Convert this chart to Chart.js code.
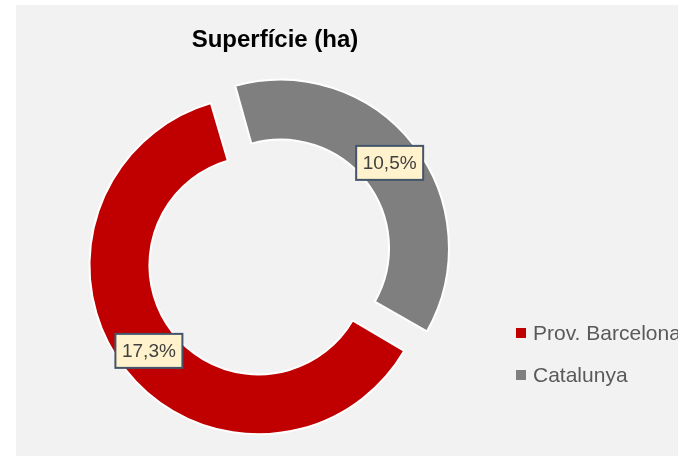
<!DOCTYPE html>
<html>
<head>
<meta charset="utf-8">
<script src="https://cdn.jsdelivr.net/npm/chart.js@4/dist/chart.umd.min.js"></script>
<style>
  html, body { margin: 0; padding: 0; background: #fff; overflow: hidden; }
  .bg { position: absolute; left: 16px; top: 5px; right: 0; bottom: 0; background: #f2f2f2; }
  .wrap { position: absolute; left: 0; top: 0; width: 678px; height: 456px; }
</style>
</head>
<body>
<div class="bg"></div>
<div class="wrap"><canvas id="chart" width="678" height="456"></canvas></div>
<script>
// data
const categories = ["Prov. Barcelona", "Catalunya"];
const values = [17.3, 10.5];
const colors = ["#c00000", "#7f7f7f"];
const explode = [28, 84];
const chartTitle = "Superfície (ha)";

const fmt = (v) => v.toFixed(1).replace(".", ",") + "%";

// where chart.js actually paints an (offset) arc's ring middle
function arcMiddle(arc) {
  const { x, y, startAngle, endAngle, innerRadius, outerRadius, circumference } = arc;
  const t = (arc.options.offset || 0) / 4;
  const fix = 1 - Math.sin(Math.min(Math.PI, circumference));
  const a = (startAngle + endAngle) / 2;
  const r = t + (innerRadius + outerRadius) / 2 + t * fix;
  return { x: x + Math.cos(a) * r, y: y + Math.sin(a) * r };
}

// title, legend and the boxed value labels
const decor = {
  id: "decor",
  afterDatasetsDraw(chart) {
    const ctx = chart.ctx;
    const meta = chart.getDatasetMeta(0);
    ctx.save();

    ctx.font = "19px Arial, 'Liberation Sans'";
    ctx.textAlign = "center";
    ctx.textBaseline = "middle";
    meta.data.forEach((arc, i) => {
      const p = arcMiddle(arc);
      const w = 67, h = 34;
      ctx.fillStyle = "#fff2cc";
      ctx.fillRect(p.x - w / 2, p.y - h / 2, w, h);
      ctx.lineWidth = 2;
      ctx.strokeStyle = "#44546a";
      ctx.strokeRect(p.x - w / 2, p.y - h / 2, w, h);
      ctx.fillStyle = "#404040";
      ctx.fillText(fmt(values[i]), p.x, p.y + 1);
    });

    ctx.font = "bold 24px Arial, 'Liberation Sans'";
    ctx.fillStyle = "#000";
    ctx.fillText(chartTitle, 275, 40);

    ctx.font = "21px Arial, 'Liberation Sans'";
    ctx.textAlign = "left";
    categories.forEach((c, i) => {
      const y = 333 + i * 42;
      ctx.fillStyle = colors[i];
      ctx.fillRect(516, y - 5, 10, 10);
      ctx.fillStyle = "#595959";
      ctx.fillText(c, 533, y + 1);
    });
    ctx.restore();
  }
};

new Chart(document.getElementById("chart"), {
  type: "doughnut",
  data: {
    labels: categories,
    datasets: [{
      data: values,
      backgroundColor: colors,
      borderColor: "#ffffff",
      borderWidth: 2,
      hoverBorderWidth: 2,
      offset: explode,
      hoverOffset: 0
    }]
  },
  options: {
    responsive: false,
    animation: false,
    rotation: 120,
    radius: 162,
    cutout: "63%",
    layout: { padding: { left: 16, right: 166, top: 66, bottom: 0 } },
    plugins: {
      legend: { display: false },
      title: { display: false },
      tooltip: { enabled: false }
    }
  },
  plugins: [decor]
});
</script>
</body>
</html>
